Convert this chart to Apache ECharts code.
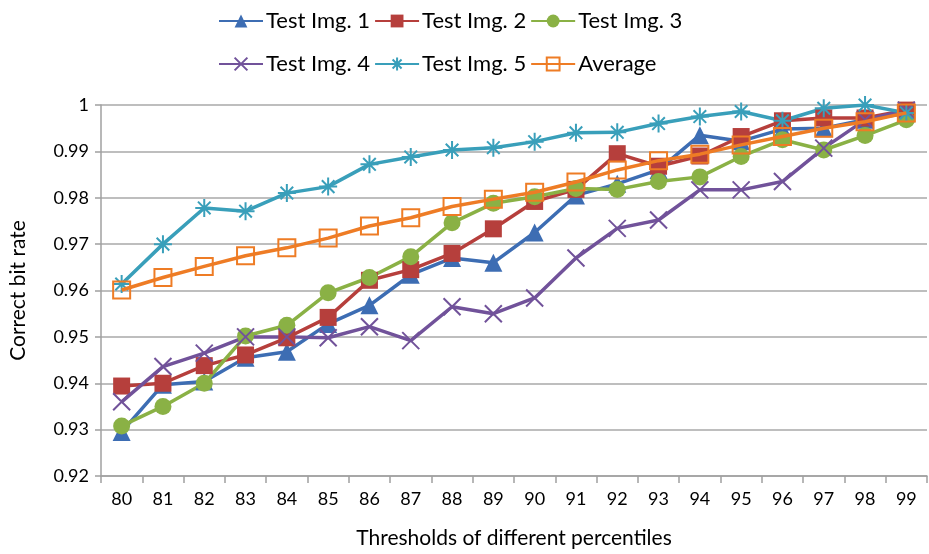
<!DOCTYPE html>
<html><head><meta charset="utf-8">
<script src="https://cdn.jsdelivr.net/npm/echarts@6/dist/echarts.min.js"></script>
<style>html,body{margin:0;padding:0;background:#fff}#c{width:929px;height:554px}</style>
</head><body><div id="c"></div>
<script>
const categories = ['80','81','82','83','84','85','86','87','88','89','90','91','92','93','94','95','96','97','98','99'];
const img1 = [0.9295,0.9397,0.9404,0.9455,0.9468,0.9528,0.9568,0.9634,0.9670,0.9660,0.9725,0.9805,0.9830,0.9860,0.9935,0.9922,0.9948,0.9950,0.9968,0.9982];
const img2 = [0.9394,0.9400,0.9438,0.9461,0.9498,0.9542,0.9622,0.9645,0.9680,0.9733,0.9792,0.9818,0.9895,0.9868,0.9890,0.9932,0.9966,0.9972,0.9972,0.9989];
const img3 = [0.9308,0.9350,0.9400,0.9502,0.9525,0.9595,0.9628,0.9673,0.9746,0.9788,0.9802,0.9820,0.9818,0.9835,0.9845,0.9889,0.9925,0.9903,0.9934,0.9968];
const img4 = [0.9360,0.9436,0.9465,0.9500,0.9500,0.9498,0.9522,0.9492,0.9565,0.9550,0.9584,0.9670,0.9734,0.9752,0.9817,0.9817,0.9835,0.9907,0.9968,0.9989];
const img5 = [0.9614,0.9700,0.9778,0.9771,0.9810,0.9824,0.9872,0.9888,0.9903,0.9908,0.9921,0.9940,0.9941,0.9960,0.9975,0.9986,0.9966,0.9993,1.0000,0.9983];
const avg  = [0.9601,0.9628,0.9652,0.9675,0.9692,0.9713,0.9739,0.9757,0.9781,0.9797,0.9812,0.9834,0.9860,0.9880,0.9894,0.9914,0.9932,0.9950,0.9964,0.9983];
const yMin = 0.92, yMax = 1.0, yStep = 0.01;

const FONT = 'Lato';
const crossPath = 'path://M0,0L10,10M10,0L0,10';
const starPath = 'path://M5,0L5,10M0,5L10,5M1.5,1.5L8.5,8.5M8.5,1.5L1.5,8.5';

function mk(name, data, color, symbol, size, opts) {
  opts = opts || {};
  return {
    name, type: 'line', data, symbol, symbolSize: size,
    showAllSymbol: true, z: opts.z || 2,
    lineStyle: { color, width: 3.5 },
    itemStyle: opts.itemStyle || { color },
    emphasis: { disabled: true }
  };
}

const legendText = { fontSize: 22, color: '#000', fontFamily: FONT, padding: [0,0,0,-2] };
const chart = echarts.init(document.getElementById('c'));
chart.setOption({
  animation: false,
  backgroundColor: '#fff',
  textStyle: { fontFamily: FONT },
  legend: [
    { data: ['Test Img. 1','Test Img. 2','Test Img. 3'], left: 213, top: 5, itemWidth: 44, itemHeight: 16, itemGap: 4, textStyle: legendText },
    { data: ['Test Img. 4','Test Img. 5','Average'], left: 213, top: 48, itemWidth: 44, itemHeight: 16, itemGap: 4, textStyle: legendText }
  ],
  grid: { left: 92, right: 2, top: 105, bottom: 78 },
  xAxis: {
    type: 'category', data: categories, boundaryGap: true,
    name: 'Thresholds of different percentiles', nameLocation: 'middle', nameGap: 52,
    nameTextStyle: { fontSize: 21, color: '#000', fontFamily: FONT },
    axisLine: { lineStyle: { color: '#a0a0a0', width: 1.5 } },
    axisTick: { show: true, alignWithLabel: false, length: 7, lineStyle: { color: '#a0a0a0', width: 1.5 } },
    axisLabel: { fontSize: 18, color: '#000', margin: 14, fontFamily: FONT }
  },
  yAxis: {
    type: 'value', min: yMin, max: yMax, interval: yStep,
    name: 'Correct bit rate', nameLocation: 'middle', nameGap: 72, nameRotate: 90,
    nameTextStyle: { fontSize: 21, color: '#000', fontFamily: FONT },
    axisLine: { show: true, lineStyle: { color: '#a0a0a0', width: 1.5 } },
    axisTick: { show: true, length: 6, lineStyle: { color: '#a0a0a0', width: 1.5 } },
    splitLine: { lineStyle: { color: '#a8a8a8', width: 1.5 } },
    axisLabel: { fontSize: 18, color: '#000', margin: 12, fontFamily: FONT,
      formatter: v => Math.abs(v - 1) < 1e-9 ? '1' : v.toFixed(2) }
  },
  series: [
    mk('Test Img. 1', img1, '#3d6db3', 'triangle', 18),
    mk('Test Img. 2', img2, '#b63f3c', 'rect', 17),
    mk('Test Img. 3', img3, '#8ab145', 'circle', 17),
    mk('Test Img. 4', img4, '#71529a', crossPath, 17, { itemStyle: { color: 'rgba(0,0,0,0)', borderColor: '#71529a', borderWidth: 2 } }),
    mk('Test Img. 5', img5, '#399fba', starPath, 18, { itemStyle: { color: 'rgba(0,0,0,0)', borderColor: '#399fba', borderWidth: 2 } }),
    mk('Average', avg, '#ee7c25', 'rect', 17, { z: 3, itemStyle: { color: 'rgba(255,255,255,0)', borderColor: '#ee7c25', borderWidth: 2 } })
  ]
});
</script></body></html>
